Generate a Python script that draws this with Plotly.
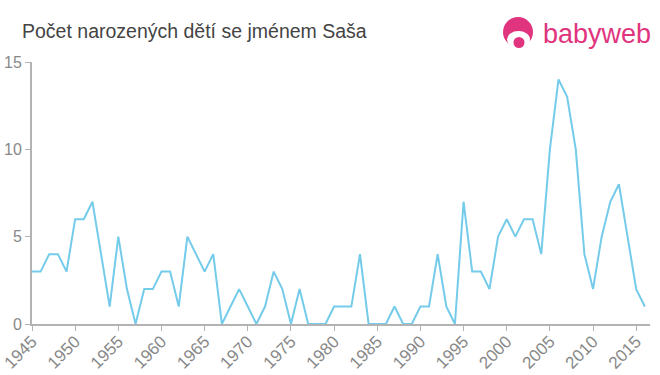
import plotly.graph_objects as go

years = list(range(1945, 2017))
counts = [3, 3, 4, 4, 3, 6, 6, 7, 4, 1,
          5, 2, 0, 2, 2, 3, 3, 1, 5, 4,
          3, 4, 0, 1, 2, 1, 0, 1, 3, 2,
          0, 2, 0, 0, 0, 1, 1, 1, 4, 0,
          0, 0, 1, 0, 0, 1, 1, 4, 1, 0,
          7, 3, 3, 2, 5, 6, 5, 6, 6, 4,
          10, 14, 13, 10, 4, 2, 5, 7, 8, 5,
          2, 1]
x_ticks = list(range(1945, 2016, 5))
y_ticks = [0, 5, 10, 15]
title_text = "Počet narozených dětí se jménem Saša"
logo_text = "babyweb"

W, H = 660, 375
ML, MR, MT, MB = 32, 10, 62, 51
PW, PH = W - ML - MR, H - MT - MB


def px(x):
    return (x - ML) / PW


def py(y):
    return (H - MB - y) / PH


fig = go.Figure()
fig.add_trace(go.Scatter(x=years, y=counts, mode="lines",
                         line=dict(color="#74cbea", width=2), hoverinfo="x+y"))

axis_col = "#b3b3b3"
pink = "#e0357e"
fig.update_layout(
    width=W, height=H,
    margin=dict(l=ML, r=MR, t=MT, b=MB),
    paper_bgcolor="white", plot_bgcolor="white",
    showlegend=False,
    font=dict(family="Liberation Sans, Arial, sans-serif", color="#888888"),
    xaxis=dict(range=[1945, 2016.6], tickmode="array", tickvals=x_ticks,
               ticktext=[str(t) for t in x_ticks], tickangle=-45, automargin=False,
               showgrid=False, zeroline=False, showline=True, linecolor=axis_col,
               linewidth=2, ticks="outside", tickcolor=axis_col, ticklen=5,
               tickwidth=1, tickfont=dict(size=17, color="#888888"),
               ticklabelstandoff=-6),
    yaxis=dict(range=[0, 15], tickmode="array", tickvals=y_ticks, automargin=False,
               showgrid=False, zeroline=False, showline=True, linecolor=axis_col,
               linewidth=2, ticks="outside", tickcolor=axis_col, ticklen=5,
               tickwidth=1, tickfont=dict(size=16, color="#888888")),
    annotations=[
        dict(text=title_text, x=px(20), y=py(31), xref="paper", yref="paper",
             showarrow=False, xanchor="left", yanchor="middle",
             font=dict(size=19.5, color="#444444")),
        dict(text=logo_text, x=px(653), y=py(34), xref="paper", yref="paper",
             showarrow=False, xanchor="right", yanchor="middle",
             font=dict(size=27, color=pink)),
    ],
)
# logo icon
fig.add_shape(type="circle", xref="paper", yref="paper",
              x0=px(503), x1=px(533), y0=py(47), y1=py(17),
              fillcolor=pink, line=dict(width=0))
fig.add_shape(type="circle", xref="paper", yref="paper",
              x0=px(507), x1=px(530), y0=py(48), y1=py(31),
              fillcolor="white", line=dict(width=0))
fig.add_shape(type="circle", xref="paper", yref="paper",
              x0=px(513.5), x1=px(524.5), y0=py(48), y1=py(37),
              fillcolor=pink, line=dict(width=0))
fig.write_html("out.html", config={"displayModeBar": False},
               post_script="document.body.style.margin='0';document.body.style.overflow='hidden';")
